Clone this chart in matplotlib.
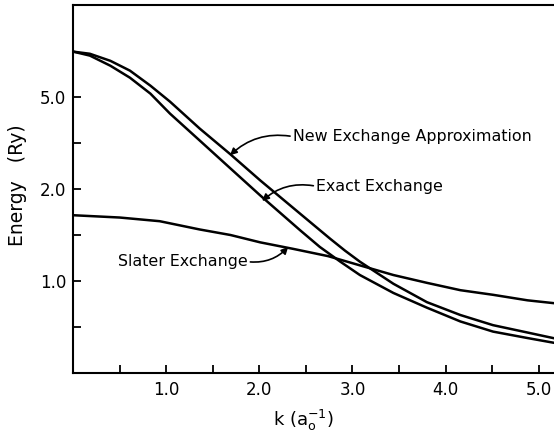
import numpy as np
import matplotlib
matplotlib.use("Agg")
import matplotlib.pyplot as plt
from matplotlib.ticker import FixedLocator, FixedFormatter, NullFormatter

# k (a_o^-1) and energy (Ry)
k_new = [0.0, 0.18, 0.40, 0.61, 0.83, 1.04, 1.36, 1.69, 2.01, 2.44, 2.76,
         2.92, 3.08, 3.44, 3.80, 4.16, 4.51, 4.88, 5.155]
e_new = [6.48, 6.41, 6.18, 5.86, 5.37, 4.85, 3.97, 3.13, 2.28, 1.73, 1.46,
         1.33, 1.21, 0.97, 0.77, 0.63, 0.52, 0.44, 0.38]

k_exact = [0.0, 0.18, 0.40, 0.61, 0.83, 1.04, 1.36, 1.69, 2.01, 2.44, 2.65,
           2.87, 3.08, 3.44, 3.80, 4.16, 4.51, 4.88, 5.155]
e_exact = [6.48, 6.35, 6.02, 5.63, 5.11, 4.46, 3.58, 2.67, 1.93, 1.55, 1.37,
           1.21, 1.065, 0.87, 0.71, 0.56, 0.45, 0.38, 0.33]

k_slater = [0.0, 0.50, 0.93, 1.36, 1.69, 2.01, 2.36, 2.74, 3.08, 3.44, 3.80,
            4.16, 4.51, 4.88, 5.155]
e_slater = [1.715, 1.69, 1.65, 1.56, 1.50, 1.42, 1.35, 1.27, 1.17, 1.065, 0.98,
            0.90, 0.85, 0.79, 0.76]

y_major = [1.0, 2.0, 5.0]
y_minor = [0.5, 1.5, 3.5]
x_major = [1.0, 2.0, 3.0, 4.0, 5.0]
x_minor = [0.5, 1.5, 2.5, 3.5, 4.5]


# energy axis of the original is evenly spaced between 1.0, 2.0 and 5.0
def forward(e):
    e = np.asarray(e, dtype=float)
    return np.where(e < 2, e - 1.0, 1.0 + (e - 2.0) / 3.0)


def inverse(p):
    p = np.asarray(p, dtype=float)
    return np.where(p < 1, p + 1.0, 2.0 + 3.0 * (p - 1.0))


fig = plt.figure(figsize=(5.54, 4.36), dpi=100)
ax = fig.add_axes([0.132, 0.1445, 0.868, 0.844])

lw = 1.8
for k, e in ((k_new, e_new), (k_exact, e_exact), (k_slater, e_slater)):
    ax.plot(k, e, color="black", lw=lw, solid_joinstyle="round")

ax.set_yscale("function", functions=(forward, inverse))
ax.set_xlim(0, 5.165)
ax.set_ylim(0, 8)

ax.yaxis.set_major_locator(FixedLocator(y_major))
ax.yaxis.set_minor_locator(FixedLocator(y_minor))
ax.yaxis.set_major_formatter(FixedFormatter([f"{v:.1f}" for v in y_major]))
ax.yaxis.set_minor_formatter(NullFormatter())
ax.xaxis.set_major_locator(FixedLocator(x_major))
ax.xaxis.set_minor_locator(FixedLocator(x_minor))
ax.xaxis.set_major_formatter(FixedFormatter([f"{v:.1f}" for v in x_major]))

ax.tick_params(which="both", direction="in", length=6, width=1.3,
               labelsize=12)
ax.tick_params(axis="x", pad=6)
ax.tick_params(axis="y", pad=5)
ax.spines["right"].set_visible(False)
for s in ("left", "top", "bottom"):
    ax.spines[s].set_linewidth(1.5)

ax.set_xlabel(r"k (a$_{\rm o}^{-1}$)", fontsize=13)
ax.xaxis.set_label_coords(0.48, -0.095)
ax.set_ylabel("Energy   (Ry)", fontsize=13.5)
ax.yaxis.set_label_coords(-0.095, 0.51)

arrow = dict(arrowstyle="-|>", color="black", lw=1.2, mutation_scale=10,
             shrinkA=0, shrinkB=0)
ax.annotate("New Exchange Approximation", xy=(1.685, 3.10), xytext=(2.36, 3.71),
            fontsize=11.4, va="center", ha="left",
            arrowprops=dict(arrow, relpos=(0, 0.5),
                            connectionstyle="arc3,rad=0.25"))
ax.annotate("Exact Exchange", xy=(2.03, 1.87), xytext=(2.61, 2.09),
            fontsize=11.4, va="center", ha="left",
            arrowprops=dict(arrow, relpos=(0, 0.5),
                            connectionstyle="arc3,rad=0.25"))
ax.annotate("Slater Exchange", xy=(2.31, 1.37), xytext=(0.48, 1.21),
            fontsize=11.4, va="center", ha="left",
            arrowprops=dict(arrow, relpos=(1, 0.5),
                            connectionstyle="arc3,rad=0.25"))

fig.savefig("out.png", dpi=100)
